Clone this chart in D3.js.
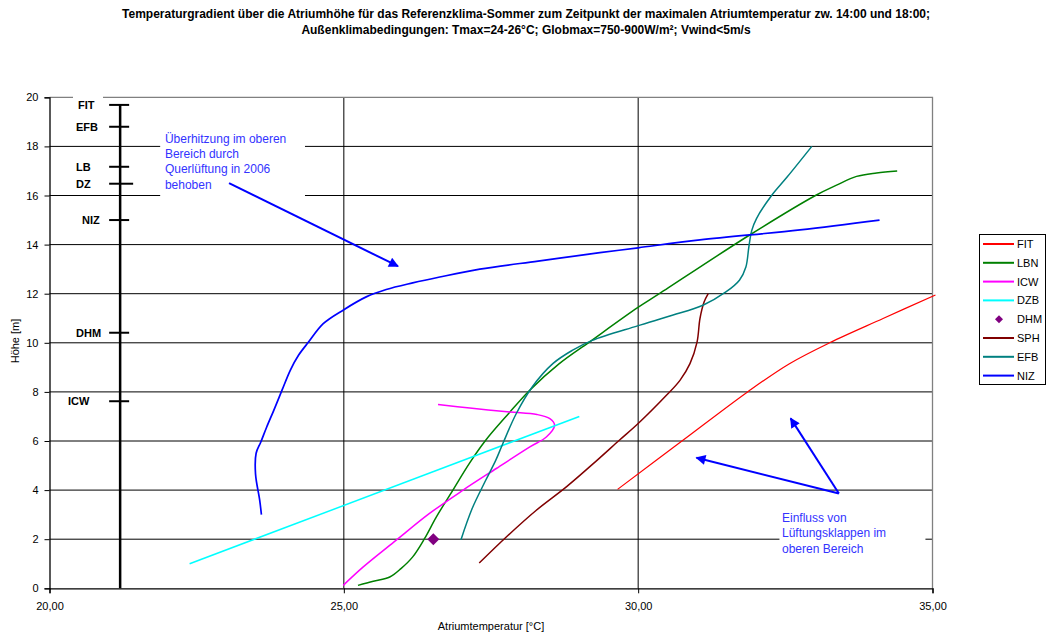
<!DOCTYPE html>
<html>
<head>
<meta charset="utf-8">
<script src="https://cdn.jsdelivr.net/npm/d3@7"></script>
<style>
  body { margin: 0; background: #fff; }
  svg { display: block; font-family: "Liberation Sans", Arial, sans-serif; }
</style>
</head>
<body>
<svg id="chart" width="1047" height="634"></svg>
<script>
// ---- Chart text ----
const titleLines = [
  "Temperaturgradient über die Atriumhöhe für das Referenzklima-Sommer zum Zeitpunkt der maximalen Atriumtemperatur zw. 14:00 und 18:00;",
  "Außenklimabedingungen: Tmax=24-26°C; Globmax=750-900W/m²; Vwind<5m/s"
];
const xLabel = "Atriumtemperatur [°C]";
const yLabel = "Höhe [m]";

// ---- Axis ticks ----
const xTicks = [20, 25, 30, 35];
const yTicks = [0, 2, 4, 6, 8, 10, 12, 14, 16, 18, 20];

// ---- Series: [temperature °C, height m] ----
const seriesNames  = ["FIT", "LBN", "ICW", "DZB", "DHM", "SPH", "EFB", "NIZ"];
const seriesColors = ["#ff0000", "#008000", "#ff00ff", "#00ffff", "#800080", "#800000", "#008080", "#0000ff"];

const fitProfile = [[29.65,4.03],[30.76,6.03],[31.87,8.02],[32.57,9.15],[33.26,10.01],[34.16,10.99],[35.05,11.95]];
const lbnProfile = [[25.24,0.12],[25.50,0.29],[25.78,0.46],[25.97,0.80],[26.17,1.28],[26.37,2.02],[26.57,2.90],
  [26.85,3.99],[27.13,5.08],[27.41,6.03],[27.80,7.12],[28.15,8.05],[28.66,9.15],[29.17,10.03],[29.99,11.43],
  [30.36,12.0],[31.86,14.34],[33.02,16.01],[33.37,16.42],[33.71,16.78],[34.05,16.92],[34.40,17.0]];
const icwProfile = [[24.99,0.12],[25.33,0.87],[25.89,1.96],[26.45,3.04],[27.02,3.99],[27.59,4.88],[28.16,5.76],
  [28.44,6.16],[28.58,6.64],[28.50,6.91],[28.28,7.08],[27.82,7.18],[27.14,7.34],[26.60,7.49]];
const dzbProfile = [[22.38,1.0],[29.0,7.0]];
const dhmPoint   = [[26.52,2.0]];
const sphProfile = [[27.30,1.03],[27.76,2.09],[28.27,3.18],[28.78,4.13],[29.30,5.21],[29.68,6.03],[30.0,6.71],
  [30.48,7.86],[30.71,8.47],[30.88,9.15],[31.0,10.03],[31.05,10.99],[31.12,11.66],[31.19,12.0]];
const efbProfile = [[26.99,1.98],[27.18,3.25],[27.41,4.40],[27.58,5.21],[27.70,5.89],[27.93,7.12],[28.20,8.20],
  [28.55,9.15],[28.88,9.69],[29.22,10.10],[29.99,10.69],[30.58,11.12],[31.10,11.53],[31.49,12.07],[31.72,12.55],
  [31.83,13.09],[31.88,13.90],[31.93,14.58],[32.01,15.06],[32.27,16.01],[32.53,16.75],[32.95,18.0]];
const nizProfile = [[23.60,3.0],[23.57,3.6],[23.50,4.65],[23.51,5.5],[23.59,5.96],[23.69,6.57],[23.81,7.25],
  [23.95,8.07],[24.09,8.88],[24.23,9.49],[24.40,10.03],[24.65,10.78],[25.0,11.35],[25.38,11.87],[25.72,12.17],
  [26.17,12.44],[26.63,12.68],[27.31,13.0],[28.3,13.33],[29.35,13.67],[30.0,13.87],[31.05,14.19],
  [32.75,14.6],[34.10,15.0]];

// ---- Building heights shown on the scale at the left ----
const buildingNames   = ["FIT", "EFB", "LB", "DZ", "NIZ", "DHM", "ICW"];
const buildingHeights = [19.69, 18.8, 17.17, 16.48, 15.0, 10.41, 7.62];
const scaleTemp = 21.2;

// ---- Notes ----
const noteTop    = ["Überhitzung im oberen", "Bereich durch", "Querlüftung in 2006", "behoben"];
const noteBottom = ["Einfluss von", "Lüftungsklappen im", "oberen Bereich"];

// ===================================================================
const svg = d3.select("#chart");
const x = d3.scaleLinear().domain([20, 35]).range([49.5, 932.5]);
const y = d3.scaleLinear().domain([0, 20]).range([588.3, 97.3]);
const profiles = [fitProfile, lbnProfile, icwProfile, dzbProfile, dhmPoint, sphProfile, efbProfile, nizProfile];
const widths = [1.2, 1.5, 1.5, 1.5, 0, 1.5, 1.5, 1.7];

// Title
svg.append("g").selectAll("text").data(titleLines).join("text")
  .attr("x", 526).attr("y", (d, i) => 18 + i * 16)
  .attr("text-anchor", "middle").attr("font-size", 12).attr("font-weight", "bold")
  .text(d => d);

// Grid lines
const grid = svg.append("g");
grid.selectAll("line.h").data(yTicks.filter(v => v > 0 && v < 20)).join("line")
  .attr("x1", x(20)).attr("x2", x(35)).attr("y1", d => y(d)).attr("y2", d => y(d))
  .attr("stroke", "#000").attr("stroke-width", 1);
grid.selectAll("line.v").data(xTicks.filter(v => v > 20 && v < 35)).join("line")
  .attr("x1", d => x(d)).attr("x2", d => x(d)).attr("y1", y(0)).attr("y2", y(20))
  .attr("stroke", "#000").attr("stroke-width", 1);
// Plot border (top and right)
svg.append("path")
  .attr("d", `M${x(20)},${y(20)}H${x(35)}V${y(0)}`)
  .attr("fill", "none").attr("stroke", "#808080").attr("stroke-width", 1.3);

// Axes
const fmtX = d => d.toFixed(2).replace(".", ",");
const xAxis = svg.append("g").attr("transform", `translate(0,${y(0)})`)
  .call(d3.axisBottom(x).tickValues(xTicks).tickSize(5).tickPadding(9).tickFormat(fmtX));
const yAxis = svg.append("g").attr("transform", `translate(${x(20)},0)`)
  .call(d3.axisLeft(y).tickValues(yTicks).tickSize(5).tickPadding(6).tickFormat(d3.format("d")));
[xAxis, yAxis].forEach(a => {
  a.selectAll("text").attr("font-size", 11).attr("font-family", "Liberation Sans, Arial, sans-serif").attr("fill", "#000");
  a.select(".domain").attr("stroke", "#000").attr("stroke-width", 1.3);
  a.selectAll(".tick line").attr("stroke", "#000");
});

svg.append("text").attr("x", 491).attr("y", 630).attr("text-anchor", "middle")
  .attr("font-size", 11).text(xLabel);
svg.append("text").attr("transform", "translate(19,341) rotate(-90)").attr("text-anchor", "middle")
  .attr("font-size", 11).text(yLabel);

// White backing boxes for the note texts
svg.append("rect").attr("x", x(21.88)).attr("y", y(18.65)).attr("width", x(24.34) - x(21.88))
  .attr("height", y(15.8) - y(18.65)).attr("fill", "#fff");
svg.append("rect").attr("x", x(32.4)).attr("y", y(3.4)).attr("width", x(34.88) - x(32.4))
  .attr("height", y(1.2) - y(3.4)).attr("fill", "#fff");
svg.append("rect").attr("x", 73).attr("y", y(20.2)).attr("width", 30).attr("height", 16).attr("fill", "#fff");

// Series lines
const line = d3.line().x(d => x(d[0])).y(d => y(d[1])).curve(d3.curveCatmullRom.alpha(0.5));
const lineSeries = seriesNames.map((n, i) => ({ name: n, color: seriesColors[i], pts: profiles[i], w: widths[i] }))
  .filter(s => s.name !== "DHM");
svg.append("g").selectAll("path").data(lineSeries).join("path")
  .attr("d", s => line(s.pts)).attr("fill", "none")
  .attr("stroke", s => s.color).attr("stroke-width", s => s.w).attr("stroke-linejoin", "round");

// DHM marker
const diamond = d3.symbol().type(d3.symbolSquare);
svg.append("g").selectAll("path").data(dhmPoint).join("path")
  .attr("d", diamond.size(72)())
  .attr("transform", d => `translate(${x(d[0])},${y(d[1])}) rotate(45)`)
  .attr("fill", seriesColors[4]);

// Building height scale
const bScale = svg.append("g");
bScale.append("line").attr("x1", x(scaleTemp)).attr("x2", x(scaleTemp))
  .attr("y1", y(d3.max(buildingHeights))).attr("y2", y(0))
  .attr("stroke", "#000").attr("stroke-width", 2.5);
const tickRight = { DZ: 13 };
bScale.selectAll("line.b").data(buildingHeights).join("line")
  .attr("x1", x(scaleTemp) - 11).attr("x2", (d, i) => x(scaleTemp) + (tickRight[buildingNames[i]] || 9))
  .attr("y1", d => y(d)).attr("y2", d => y(d))
  .attr("stroke", "#000").attr("stroke-width", 2);
const labelLeft = { FIT: 78, NIZ: 82, ICW: 68 };
bScale.selectAll("text").data(buildingHeights).join("text")
  .attr("x", (d, i) => labelLeft[buildingNames[i]] || 76)
  .attr("y", d => y(d) + 4)
  .attr("font-size", 11).attr("font-weight", "bold")
  .text((d, i) => buildingNames[i]);

// Notes and arrows
svg.append("defs").append("marker")
  .attr("id", "arrowHead").attr("viewBox", "0 0 10 10").attr("refX", 9).attr("refY", 5)
  .attr("markerWidth", 11).attr("markerHeight", 10).attr("markerUnits", "userSpaceOnUse")
  .attr("orient", "auto")
  .append("path").attr("d", "M0,0L10,5L0,10Z").attr("fill", "#0000ff");

const arrows = [
  [[23.05, 16.5], [25.92, 13.12]],
  [[33.41, 3.86], [30.99, 5.32]],
  [[33.41, 3.86], [32.59, 6.92]]
];
svg.append("g").selectAll("line").data(arrows).join("line")
  .attr("x1", d => x(d[0][0])).attr("y1", d => y(d[0][1]))
  .attr("x2", d => x(d[1][0])).attr("y2", d => y(d[1][1]))
  .attr("stroke", "#0000ff").attr("stroke-width", 2).attr("marker-end", "url(#arrowHead)");

svg.append("g").selectAll("text").data(noteTop).join("text")
  .attr("x", x(21.96)).attr("y", (d, i) => 143 + i * 15.2)
  .attr("font-size", 12).attr("fill", "#3333ff").text(d => d);
svg.append("g").selectAll("text").data(noteBottom).join("text")
  .attr("x", 782).attr("y", (d, i) => 522 + i * 15.4)
  .attr("font-size", 12).attr("fill", "#3333ff").text(d => d);

// Legend
const legend = svg.append("g");
legend.append("rect").attr("x", 979.5).attr("y", 234.5).attr("width", 66).attr("height", 150)
  .attr("fill", "#fff").attr("stroke", "#000").attr("stroke-width", 1);
const items = legend.selectAll("g").data(seriesNames).join("g")
  .attr("transform", (d, i) => `translate(0,${244 + i * 18.8})`);
items.filter(d => d !== "DHM").append("line")
  .attr("x1", 983).attr("x2", 1014).attr("stroke", d => seriesColors[seriesNames.indexOf(d)])
  .attr("stroke-width", 2);
items.filter(d => d === "DHM").append("path")
  .attr("d", d3.symbol().type(d3.symbolSquare).size(32)())
  .attr("transform", "translate(999,0) rotate(45)").attr("fill", seriesColors[4]);
items.append("text").attr("x", 1017).attr("y", 4).attr("font-size", 11).text(d => d);
</script>
</body>
</html>
